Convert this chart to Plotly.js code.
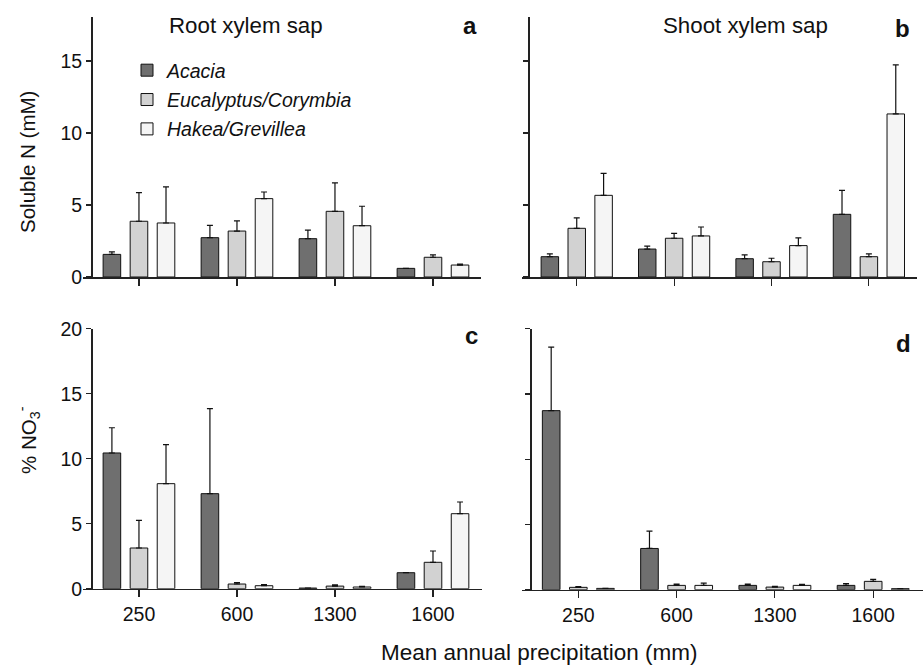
<!DOCTYPE html>
<html>
<head>
<meta charset="utf-8">
<script src="https://cdn.plot.ly/plotly-3.0.1.min.js"></script>
<style>html,body{margin:0;padding:0;background:#fff;}#chart{width:923px;height:668px;}</style>
</head>
<body>
<div id="chart"></div>
<script>
// ---- data ----
const categories = ['250', '600', '1300', '1600'];
const seriesNames = ['Acacia', 'Eucalyptus/Corymbia', 'Hakea/Grevillea'];

// a: Root xylem sap, soluble N (mM)
const rootAcacia = [1.57, 2.73, 2.66, 0.60];
const rootAcaciaErr = [0.17, 0.86, 0.60, 0.00];
const rootEuc = [3.87, 3.19, 4.56, 1.37];
const rootEucErr = [1.99, 0.70, 1.97, 0.16];
const rootHakea = [3.75, 5.44, 3.56, 0.83];
const rootHakeaErr = [2.50, 0.46, 1.35, 0.07];

// b: Shoot xylem sap, soluble N (mM)
const shootAcacia = [1.41, 1.94, 1.27, 4.35];
const shootAcaciaErr = [0.19, 0.21, 0.26, 1.67];
const shootEuc = [3.38, 2.69, 1.06, 1.41];
const shootEucErr = [0.72, 0.34, 0.24, 0.19];
const shootHakea = [5.67, 2.85, 2.18, 11.32];
const shootHakeaErr = [1.53, 0.62, 0.53, 3.40];

// c: Root xylem sap, % NO3-
const no3RootAcacia = [10.44, 7.31, 0.05, 1.23];
const no3RootAcaciaErr = [1.94, 6.54, 0.00, 0.00];
const no3RootEuc = [3.13, 0.36, 0.20, 2.03];
const no3RootEucErr = [2.13, 0.10, 0.10, 0.87];
const no3RootHakea = [8.08, 0.23, 0.13, 5.77];
const no3RootHakeaErr = [3.00, 0.08, 0.05, 0.90];

// d: Shoot xylem sap, % NO3-
const no3ShootAcacia = [13.72, 3.16, 0.33, 0.33];
const no3ShootAcaciaErr = [4.87, 1.33, 0.10, 0.13];
const no3ShootEuc = [0.18, 0.33, 0.20, 0.64];
const no3ShootEucErr = [0.05, 0.10, 0.06, 0.15];
const no3ShootHakea = [0.10, 0.33, 0.33, 0.08];
const no3ShootHakeaErr = [0.00, 0.18, 0.08, 0.00];

// ---- styling ----
const colors = ['#6f6f6f', '#d2d2d2', '#f5f5f5'];
const FONT = 'Liberation Sans, Arial, Helvetica, sans-serif';
const AX = '#222';

function mk(y, err, idx, xa, ya, show) {
  return {
    type: 'bar', x: categories, y: y,
    name: seriesNames[idx], legendgroup: 'g' + idx, showlegend: show,
    xaxis: xa, yaxis: ya,
    marker: {color: colors[idx], line: {color: '#111', width: 1}},
    error_y: {type: 'data', symmetric: false, array: err, arrayminus: err.map(() => 0),
              color: '#111', thickness: 1.2, width: 3},
    hoverinfo: 'skip'
  };
}

const data = [
  mk(rootAcacia, rootAcaciaErr, 0, 'x', 'y', true),
  mk(rootEuc, rootEucErr, 1, 'x', 'y', true),
  mk(rootHakea, rootHakeaErr, 2, 'x', 'y', true),
  mk(shootAcacia, shootAcaciaErr, 0, 'x2', 'y2', false),
  mk(shootEuc, shootEucErr, 1, 'x2', 'y2', false),
  mk(shootHakea, shootHakeaErr, 2, 'x2', 'y2', false),
  mk(no3RootAcacia, no3RootAcaciaErr, 0, 'x3', 'y3', false),
  mk(no3RootEuc, no3RootEucErr, 1, 'x3', 'y3', false),
  mk(no3RootHakea, no3RootHakeaErr, 2, 'x3', 'y3', false),
  mk(no3ShootAcacia, no3ShootAcaciaErr, 0, 'x4', 'y4', false),
  mk(no3ShootEuc, no3ShootEucErr, 1, 'x4', 'y4', false),
  mk(no3ShootHakea, no3ShootHakeaErr, 2, 'x4', 'y4', false)
];

const W = 923, H = 668;
function xax(l, r, range, anchor, labels) {
  return {domain: [l / W, r / W], range: range, type: 'category', anchor: anchor,
    showline: true, linecolor: AX, linewidth: 1.5, ticks: 'outside', ticklen: 7, tickwidth: 1.2,
    tickcolor: AX, showticklabels: labels, showgrid: false, zeroline: false,
    tickfont: {family: FONT, size: 19.5, color: '#111'}, fixedrange: true};
}
function yax(top, bottom, pos, range, tickvals, labels) {
  return {domain: [1 - bottom / H, 1 - top / H], range: range, anchor: 'free', position: pos / W,
    showline: true, linecolor: AX, linewidth: 1.5, ticks: 'outside', ticklen: 5, tickwidth: 1.2,
    tickcolor: AX, tickvals: tickvals, showticklabels: labels, showgrid: false, zeroline: false,
    tickfont: {family: FONT, size: 19.5, color: '#111'}, fixedrange: true};
}

const ann = (text, x, y, size, opts) => Object.assign({
  text: text, x: x / W, y: 1 - y / H, xref: 'paper', yref: 'paper', showarrow: false,
  xanchor: 'center', yanchor: 'middle', font: {family: FONT, size: size, color: '#111'}
}, opts || {});

const layout = {
  width: W, height: H,
  margin: {l: 0, r: 0, t: 0, b: 0},
  paper_bgcolor: '#fff', plot_bgcolor: 'rgba(0,0,0,0)',
  barmode: 'group', bargap: 0.172, bargroupgap: 0.35,
  font: {family: FONT, color: '#111'},
  showlegend: true,
  legend: {x: 127 / W, y: 1 - 51 / H, xanchor: 'left', yanchor: 'top',
    bgcolor: 'rgba(0,0,0,0)', borderwidth: 0, tracegroupgap: 1,
    font: {family: FONT, size: 19.5, style: 'italic', color: '#111'}},
  xaxis: xax(83, 481, [-0.571, 3.49], 'y', false),
  yaxis: yax(17, 277, 91, [0, 18.05], [0, 5, 10, 15], true),
  xaxis2: xax(522, 917, [-0.562, 3.494], 'y2', false),
  yaxis2: yax(17, 277, 528, [0, 18.05], [0, 5, 10, 15], false),
  xaxis3: xax(83, 482, [-0.571, 3.5], 'y3', true),
  yaxis3: yax(328.7, 588.7, 91, [0, 20], [0, 5, 10, 15, 20], true),
  xaxis4: xax(522, 923, [-0.573, 3.507], 'y4', true),
  yaxis4: yax(328.7, 589.7, 530, [0, 20], [0, 5, 10, 15, 20], false),
  annotations: [
    ann('Root xylem sap', 246, 25, 22.3),
    ann('Shoot xylem sap', 745, 25, 22.3),
    ann('<b>a</b>', 470, 25, 24),
    ann('<b>b</b>', 902, 28, 24),
    ann('<b>c</b>', 471, 335, 24),
    ann('<b>d</b>', 903, 343, 24),
    ann('Soluble N (mM)', 28, 162, 20.5, {textangle: -90}),
    ann('% NO<sub>3</sub><sup>-</sup>', 28, 440, 20.5, {textangle: -90}),
    ann('Mean annual precipitation (mm)', 539, 652, 22.5)
  ]
};

Plotly.newPlot('chart', data, layout, {staticPlot: true, displayModeBar: false});
</script>
</body>
</html>
